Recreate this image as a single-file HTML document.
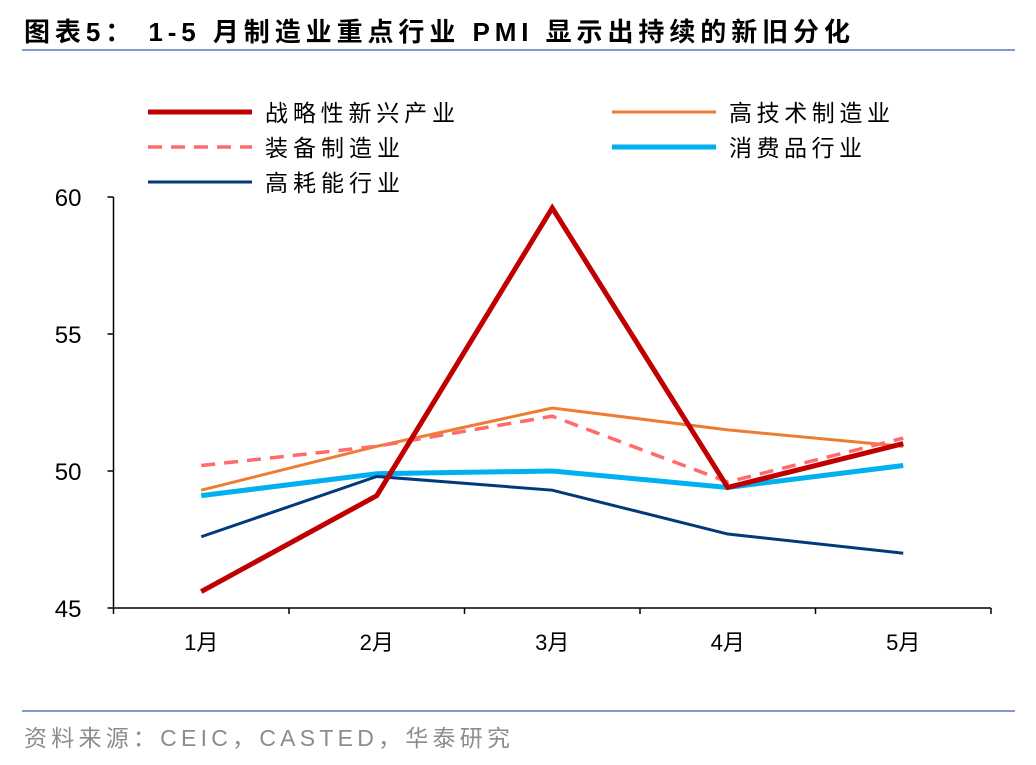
<!DOCTYPE html>
<html><head><meta charset="utf-8">
<style>
body{margin:0;background:#fff;width:1036px;height:760px;overflow:hidden;font-family:"Liberation Sans","Noto Sans CJK SC",sans-serif;}
</style></head>
<body>
<svg width="1036" height="760" xmlns="http://www.w3.org/2000/svg" font-family="Liberation Sans, Noto Sans CJK SC, sans-serif">
<text x="24" y="41" font-size="26" font-weight="bold" fill="#000" textLength="826" lengthAdjust="spacing">图表5：  1-5 月制造业重点行业 PMI 显示出持续的新旧分化</text>
<line x1="22" y1="50" x2="1015" y2="50" stroke="#7f9ccb" stroke-width="2"/>
<line x1="22" y1="711" x2="1015" y2="711" stroke="#7f9ccb" stroke-width="2"/>
<text x="24" y="746" font-size="23" fill="#8c8c8c" textLength="486" lengthAdjust="spacing">资料来源：CEIC，CASTED，华泰研究</text>
<g id="axes"></g>
<g id="series"></g>
<g id="legend"></g>
</svg>
<script>
const categories=["1月","2月","3月","4月","5月"];
const yTicks=[45,50,55,60];
const strategic=[45.6,49.1,59.6,49.4,51.0];
const hightech=[49.3,50.9,52.3,51.5,50.9];
const equipment=[50.2,50.9,52.0,49.6,51.2];
const consumer=[49.1,49.9,50.0,49.4,50.2];
const energy=[47.6,49.8,49.3,47.7,47.0];
const NS="http://www.w3.org/2000/svg";
const x0=113.5,x1=991,yB=608,yT=197,vMin=45,vMax=60;
const band=(x1-x0)/categories.length;
const xs=i=>x0+band*(i+0.5);
const ys=v=>yB-(v-vMin)/(vMax-vMin)*(yB-yT);
function mk(t,a,p){const e=document.createElementNS(NS,t);for(const k in a)e.setAttribute(k,a[k]);p.appendChild(e);return e;}
const ax=document.getElementById('axes');
let yl=mk('line',{x1:x0,y1:yT,x2:x0,y2:yB,stroke:'#000','stroke-width':1.5},ax);


let xl=mk('line',{x1:x0,y1:yB,x2:x1,y2:yB,stroke:'#000','stroke-width':1.5},ax);


yTicks.forEach(v=>{
 const tk=mk('line',{x1:x0-6,y1:ys(v),x2:x0,y2:ys(v),stroke:'#000','stroke-width':1.5},ax);
 
 
 const t=mk('text',{x:x0-32,y:ys(v)+9,'text-anchor':'end','font-size':24,fill:'#000'},ax);
 t.textContent=v;
 
 
});
for(let i=0;i<=categories.length;i++){
 const tk=mk('line',{x1:x0+band*i,y1:yB,x2:x0+band*i,y2:yB+6,stroke:'#000','stroke-width':1.5},ax);
 
 
}
categories.forEach((c,i)=>{
 const t=mk('text',{x:xs(i),y:650,'text-anchor':'middle','font-size':22,fill:'#000'},ax);
 t.textContent=c;
 
 
});
const defs=[
 {d:hightech,c:'#ed7d31',w:3,dash:'',n:'高技术制造业',k:'hightech',lx:612,ly:112,tl:161},
 {d:equipment,c:'#ff6b6b',w:3.5,dash:'14 9',n:'装备制造业',k:'equipment',lx:148,ly:147,tl:135},
 {d:consumer,c:'#00b0f0',w:5,dash:'',n:'消费品行业',k:'consumer',lx:612,ly:147,tl:133},
 {d:energy,c:'#003a7a',w:3,dash:'',n:'高耗能行业',k:'energy',lx:148,ly:182,tl:135},
 {d:strategic,c:'#c00000',w:5,dash:'',n:'战略性新兴产业',k:'strategic',lx:148,ly:112,tl:190}
];
const sg=document.getElementById('series'),lg=document.getElementById('legend');
defs.forEach(s=>{
 const p=mk('polyline',{points:s.d.map((v,i)=>xs(i)+','+ys(v)).join(' '),fill:'none',stroke:s.c,'stroke-width':s.w,'stroke-dasharray':s.dash,'stroke-linejoin':'miter'},sg);
 
 
 const g=mk('g',{},lg);
 
 
 mk('line',{x1:s.lx,y1:s.ly,x2:s.lx+104,y2:s.ly,stroke:s.c,'stroke-width':s.w,'stroke-dasharray':s.dash},g);
 const t=mk('text',{x:s.lx+117,y:s.ly+9,'font-size':23,fill:'#000',textLength:s.tl,lengthAdjust:'spacing'},g);
 t.textContent=s.n;
});
</script>
</body></html>
